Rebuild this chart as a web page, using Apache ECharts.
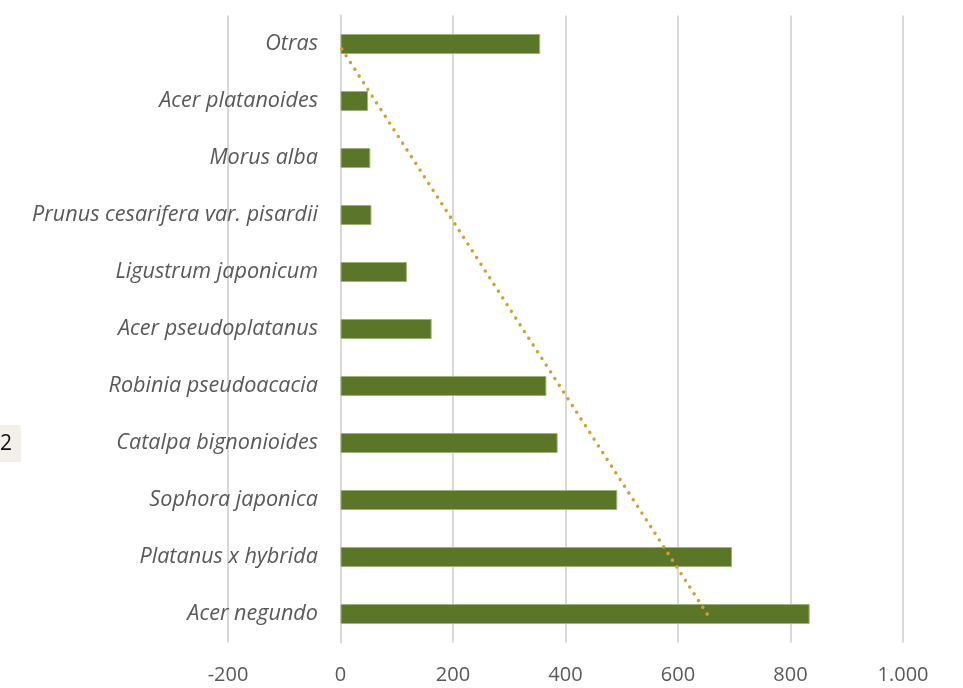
<!DOCTYPE html>
<html>
<head>
<meta charset="utf-8">
<script src="https://cdn.jsdelivr.net/npm/echarts@6/dist/echarts.min.js"></script>
<style>html,body{margin:0;padding:0;background:#fff;}#c{width:963px;height:688px;}</style>
</head>
<body>
<div id="c"></div>
<script>
// Categories listed bottom to top
const categories = ["Acer negundo","Platanus x hybrida","Sophora japonica","Catalpa bignonioides","Robinia pseudoacacia","Acer pseudoplatanus","Ligustrum japonicum","Prunus cesarifera var. pisardii","Morus alba","Acer platanoides","Otras"];
const values = [834, 696, 492, 386, 366, 162, 118, 55, 53, 49, 355];
const xTicks = [-200, 0, 200, 400, 600, 800, 1000];

// Linear trendline (least squares over category index), as Excel does
const n = values.length;
const idx = values.map((v, i) => i + 1);
const mx = idx.reduce((a, b) => a + b, 0) / n;
const my = values.reduce((a, b) => a + b, 0) / n;
let sxy = 0, sxx = 0;
for (let i = 0; i < n; i++) { sxy += (idx[i] - mx) * (values[i] - my); sxx += (idx[i] - mx) ** 2; }
const slope = sxy / sxx, icpt = my - slope * mx;
const trend = idx.map((x, i) => [icpt + slope * x, categories[i]]);

const chart = echarts.init(document.getElementById('c'), null, {renderer: 'canvas'});
const FONT = '"Open Sans", "DejaVu Sans", sans-serif';
chart.setOption({
  animation: false,
  backgroundColor: '#ffffff',
  grid: {left: 228, right: 60, top: 15.5, bottom: 45.5, containLabel: false, outerBoundsMode: 'none'},
  xAxis: {
    type: 'value', min: xTicks[0], max: xTicks[xTicks.length - 1], interval: 200,
    axisLine: {show: false}, axisTick: {show: false},
    splitLine: {show: true, lineStyle: {color: '#D9D9D9', width: 2}},
    axisLabel: {color: '#595959', fontSize: 20, fontFamily: FONT, margin: 23,
      formatter: v => (v >= 1000 ? String(v).replace(/(\d)(?=(\d{3})+$)/, '$1.') : String(v))}
  },
  yAxis: {
    type: 'category', data: categories, offset: -113,
    axisLine: {show: true, onZero: false, lineStyle: {color: '#D9D9D9', width: 2}},
    axisTick: {show: false},
    axisLabel: {color: '#595959', fontSize: 21.6, fontStyle: 'italic', fontFamily: FONT, margin: 23}
  },
  series: [
    {type: 'bar', data: values, barWidth: 20,
      itemStyle: {color: '#5B7628', borderColor: '#9DB27A', borderWidth: 1}},
    {type: 'line', data: trend, symbol: 'none', z: 5,
      lineStyle: {color: '#D4A03A', width: 3.5, type: [0.01, 8], cap: 'round'}}
  ],
  graphic: [
    {type: 'rect', shape: {x: 0, y: 425, width: 21, height: 37}, style: {fill: '#F3F0EA'}},
    {type: 'text', x: 0, y: 444, style: {text: '2', fill: '#111', fontSize: 21, fontFamily: FONT, verticalAlign: 'middle', align: 'left'}}
  ]
});
</script>
</body>
</html>
